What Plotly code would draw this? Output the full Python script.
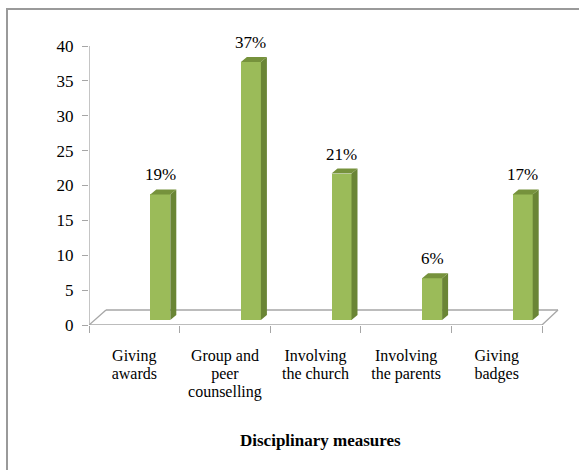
import plotly.graph_objects as go

# ---- data ----
categories = ["Giving<br>awards", "Group and<br>peer<br>counselling", "Involving<br>the church",
              "Involving<br>the parents", "Giving<br>badges"]
values = [18, 37, 21, 6, 18]
pct_labels = ["19%", "37%", "21%", "6%", "17%"]
y_ticks = [0, 5, 10, 15, 20, 25, 30, 35, 40]
x_title = "Disciplinary measures"

# ---- geometry (in axis units) ----
PX_X = 90.6    # px per category
PX_Y = 6.975   # px per y unit
bar_off = 26 / PX_X
bar_w = 20 / PX_X
dep_x = 6 / PX_X
dep_y = 5 / PX_Y
base = 5 / PX_Y
floor_dx_l = 17 / PX_X
floor_dx_r = 16 / PX_X
floor_dy = 15 / PX_Y
x_lo = -0.5
x_hi = len(categories) - 0.5
x_max = x_lo + 471 / PX_X
y_top = 285 / PX_Y

FRONT = "#9BBB59"
SIDE = "#6A8535"
TOP = "#76923C"
GRID = "#A6A6A6"
FONT = "Liberation Serif, Times New Roman, DejaVu Serif, serif"
FS = 17
FS_CAT = 16

idx = list(range(len(categories)))
bar_x = [i + bar_off for i in idx]

fig = go.Figure()

# side & top faces
sx, sy, tx, ty = [], [], [], []
for xc, v in zip(bar_x, values):
    xl, xr = xc - bar_w / 2, xc + bar_w / 2
    yt = base + v
    sx += [xr, xr + dep_x, xr + dep_x, xr, xr, None]
    sy += [base, base + dep_y, yt + dep_y, yt, base, None]
    tx += [xl, xr, xr + dep_x, xl + dep_x, xl, None]
    ty += [yt, yt, yt + dep_y, yt + dep_y, yt, None]

fig.add_trace(go.Bar(x=bar_x, y=values, base=base, width=bar_w,
                     marker=dict(color=FRONT, line=dict(width=0)),
                     hoverinfo="skip", showlegend=False))
fig.add_trace(go.Scatter(x=sx, y=sy, fill="toself", fillcolor=SIDE, mode="lines",
                         line=dict(width=0, color=SIDE), hoverinfo="skip", showlegend=False))
fig.add_trace(go.Scatter(x=tx, y=ty, fill="toself", fillcolor=TOP, mode="lines",
                         line=dict(width=0, color=TOP), hoverinfo="skip", showlegend=False))

# percentage labels
for xc, v, t in zip(bar_x, values, pct_labels):
    fig.add_annotation(x=xc, y=base + v, text=t, showarrow=False, yanchor="bottom",
                       yshift=8, font=dict(family=FONT, size=FS, color="black"))

# floor and axis lines
shapes = [
    dict(type="line", x0=x_lo, y0=0, x1=x_hi, y1=0),
    dict(type="line", x0=x_lo + floor_dx_l, y0=floor_dy, x1=x_hi + floor_dx_r, y1=floor_dy),
    dict(type="line", x0=x_lo, y0=0, x1=x_lo + floor_dx_l, y1=floor_dy),
    dict(type="line", x0=x_hi, y0=0, x1=x_hi + floor_dx_r, y1=floor_dy),
    dict(type="line", x0=x_lo, y0=0, x1=x_lo, y1=y_ticks[-1]),
]
for s in shapes:
    s.update(xref="x", yref="y", layer="below", line=dict(color=GRID, width=1.3))
    fig.add_shape(**s)

# outer frame
fig.add_shape(type="rect", xref="paper", yref="paper",
              x0=(7 - 89) / 471, x1=1.3, y0=-1.0, y1=(325 - 9) / 285,
              line=dict(color="#9A9A9A", width=2), layer="below")

fig.add_annotation(xref="paper", yref="paper", x=(320 - 89) / 471, y=(325 - 440) / 285,
                   text="<b>" + x_title + "</b>", showarrow=False, yanchor="middle",
                   font=dict(family=FONT, size=FS, color="black"))

tick_text = ["<br>".join('<span style="font-size:%dpx">' % FS_CAT + ln + "</span>"
                         for ln in c.split("<br>")) for c in categories]

fig.update_layout(
    width=579, height=470,
    margin=dict(l=89, r=19, t=40, b=145),
    paper_bgcolor="white", plot_bgcolor="white",
    bargap=0,
    xaxis=dict(range=[x_lo, x_max], showgrid=False, zeroline=False, showline=False,
               tickmode="array", tickvals=idx, ticktext=tick_text, ticks="",
               ticklabelstandoff=21,
               tickfont=dict(family=FONT, size=13.9, color="black"),
               minor=dict(tickvals=[i - 0.5 for i in range(len(categories) + 1)],
                          ticks="outside", ticklen=7, tickcolor=GRID, tickwidth=1.3)),
    yaxis=dict(range=[0, y_top], showgrid=False, zeroline=False, showline=False,
               tickmode="array", tickvals=y_ticks, ticks="outside", ticklen=6,
               tickcolor=GRID, tickwidth=1.3, ticklabelstandoff=5,
               tickfont=dict(family=FONT, size=FS, color="black")),
)

fig.write_html("out.html", config={"displayModeBar": False},
               post_script="document.body.style.margin='0px';")
